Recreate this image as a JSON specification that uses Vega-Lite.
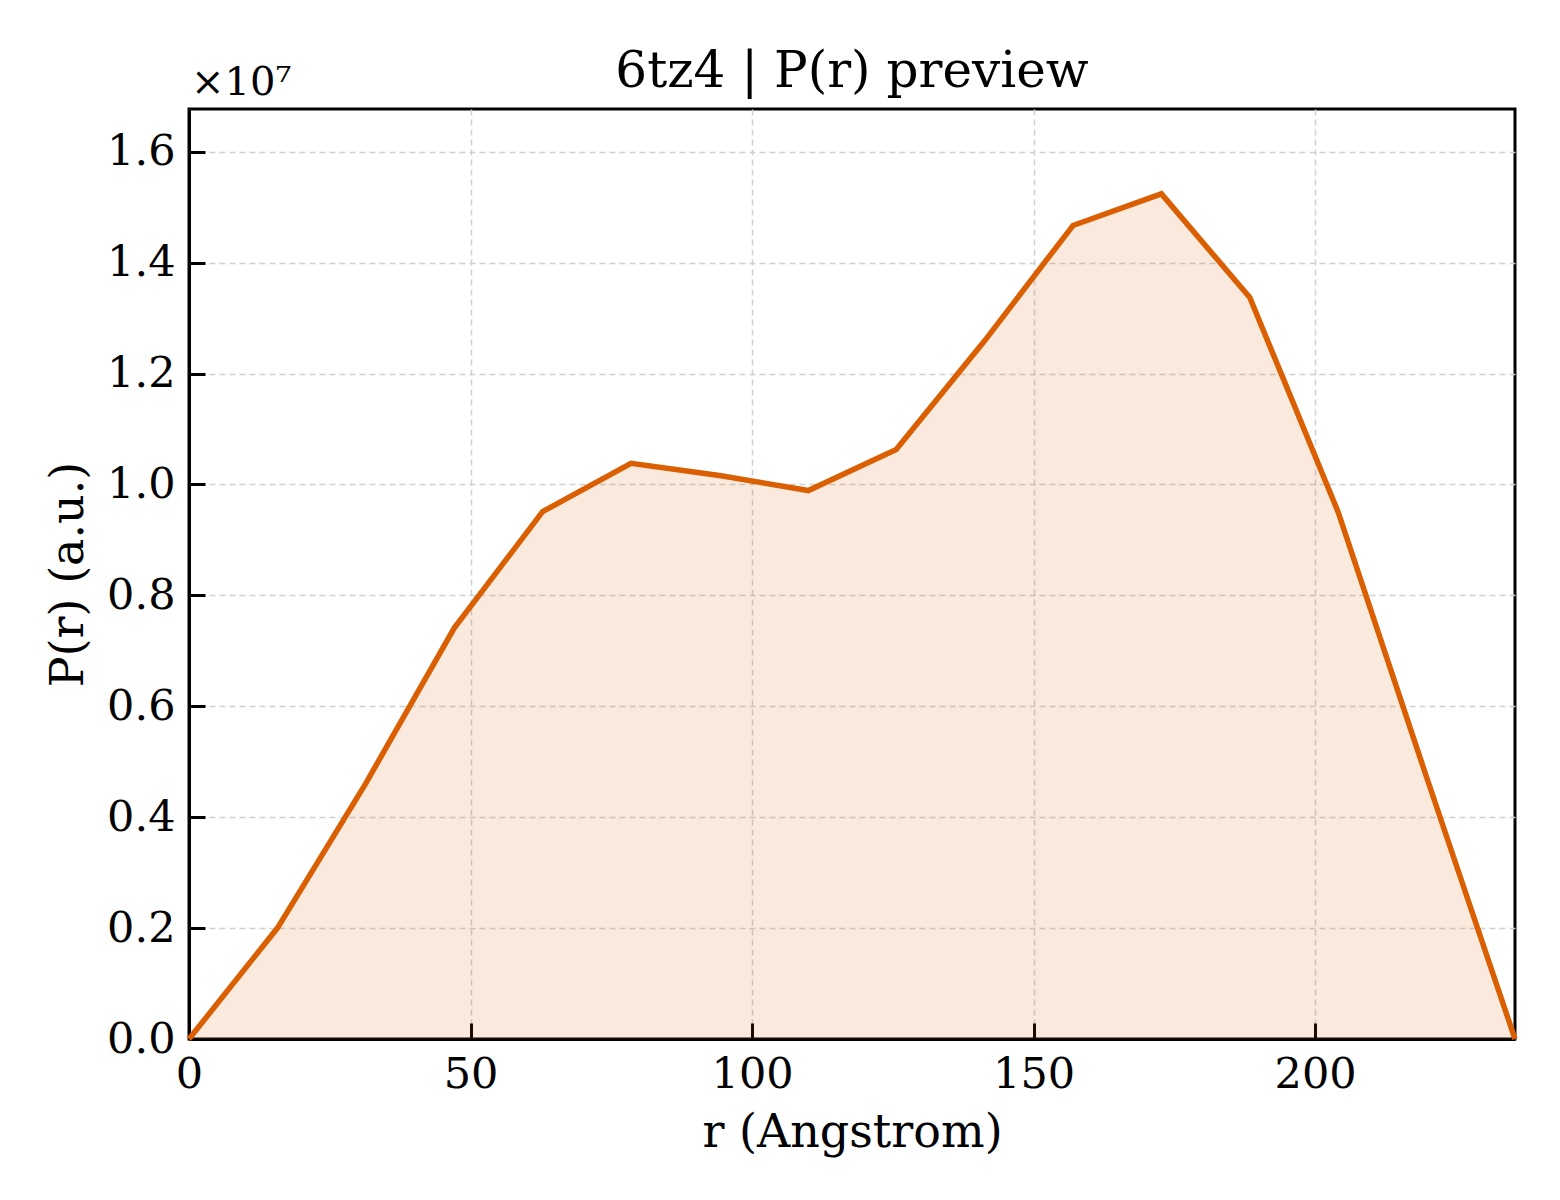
{
  "$schema": "https://vega.github.io/schema/vega-lite/v6.json",
  "width": 1326,
  "height": 930,
  "autosize": "none",
  "padding": {"left": 189, "top": 109, "right": 45, "bottom": 161},
  "background": "white",
  "title": {
    "text": "6tz4 | P(r) preview",
    "font": "DejaVu Serif",
    "fontSize": 50,
    "fontWeight": "normal",
    "color": "black",
    "offset": -34
  },
  "data": {"values": [
    {"r": 0, "p": 0},
    {"r": 15.7, "p": 2000000},
    {"r": 31.4, "p": 4610000},
    {"r": 47.1, "p": 7410000},
    {"r": 62.8, "p": 9510000},
    {"r": 78.5, "p": 10380000},
    {"r": 94.2, "p": 10160000},
    {"r": 110.0, "p": 9890000},
    {"r": 125.6, "p": 10630000},
    {"r": 141.3, "p": 12590000},
    {"r": 157.0, "p": 14670000},
    {"r": 172.7, "p": 15240000},
    {"r": 188.4, "p": 13370000},
    {"r": 204.1, "p": 9500000},
    {"r": 219.8, "p": 4720000},
    {"r": 235.5, "p": 0}
  ]},
  "encoding": {
    "x": {
      "field": "r",
      "type": "quantitative",
      "title": "r (Angstrom)",
      "scale": {"domain": [0, 235.5], "nice": false, "zero": false},
      "axis": {"values": [0, 50, 100, 150, 200], "format": "d", "labelFlush": false}
    },
    "y": {
      "field": "p",
      "type": "quantitative",
      "title": "P(r) (a.u.)",
      "scale": {"domain": [0, 16770000], "nice": false},
      "axis": {
        "values": [0, 2000000, 4000000, 6000000, 8000000, 10000000, 12000000, 14000000, 16000000],
        "labelExpr": "format(datum.value / 10000000, '.1f')",
        "labelFlush": false
      }
    }
  },
  "layer": [
    {"mark": {"type": "area", "color": "#d95f02", "opacity": 0.13}},
    {"mark": {"type": "line", "color": "#d95f02", "strokeWidth": 5.5}},
    {
      "data": {"values": [{"r": 0, "p": 16770000, "label": "×10⁷"}]},
      "mark": {
        "type": "text",
        "font": "DejaVu Serif",
        "fontSize": 40,
        "align": "left",
        "baseline": "alphabetic",
        "dx": 2,
        "dy": -14,
        "color": "black",
        "clip": false
      },
      "encoding": {
        "text": {"field": "label", "type": "nominal"}
      }
    }
  ],
  "config": {
    "font": "DejaVu Serif",
    "view": {"stroke": "black", "strokeWidth": 3},
    "axis": {
      "domain": true,
      "domainColor": "black",
      "domainWidth": 3,
      "grid": true,
      "gridColor": "#d0d0d0",
      "gridDash": [6, 4],
      "gridWidth": 1.5,
      "ticks": true,
      "tickSize": -16,
      "tickWidth": 3,
      "tickColor": "black",
      "labelFont": "DejaVu Serif",
      "labelFontSize": 43,
      "labelColor": "black",
      "labelPadding": 30,
      "titleFont": "DejaVu Serif",
      "titleFontSize": 46,
      "titleFontWeight": "normal",
      "titleColor": "black"
    },
    "axisX": {"titlePadding": 14},
    "axisY": {"titlePadding": 14}
  }
}
